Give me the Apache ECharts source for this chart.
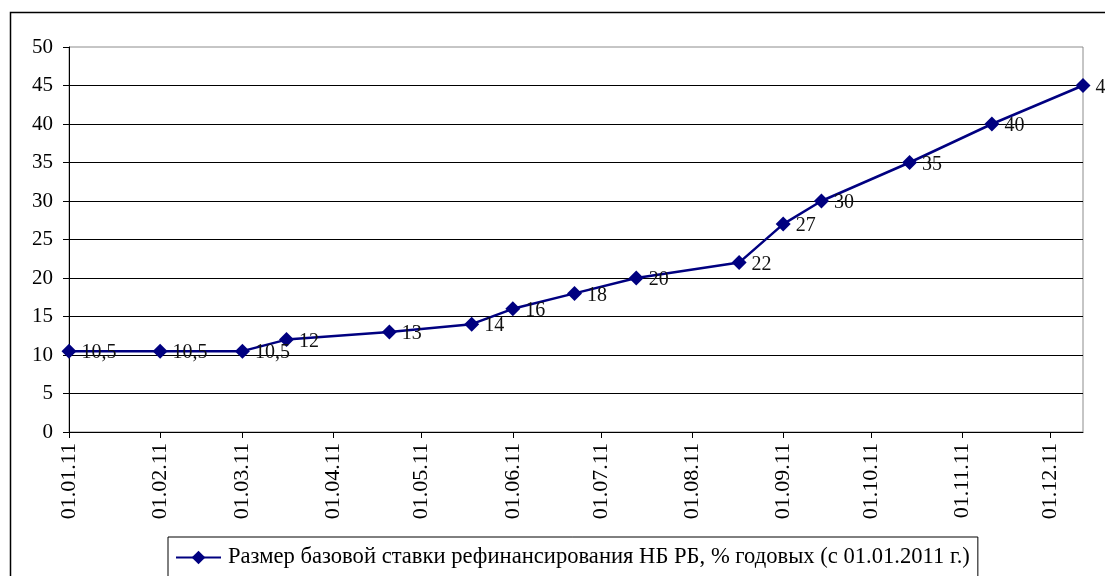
<!DOCTYPE html>
<html>
<head>
<meta charset="utf-8">
<script src="https://cdn.jsdelivr.net/npm/echarts@6/dist/echarts.min.js"></script>
<style>
	html, body { margin: 0; padding: 0; background: #fff; }
	#chart { width: 1105px; height: 576px; }
</style>
</head>
<body>
<div id="chart"></div>
<script>
// даты изменения ставки и её размер, % годовых
const rateDates = ["01.01.11", "01.02.11", "01.03.11", "16.03.11", "20.04.11", "18.05.11", "01.06.11", "22.06.11",
	"13.07.11", "17.08.11", "01.09.11", "14.09.11", "14.10.11", "11.11.11", "12.12.11"];
const rateValues = [10.5, 10.5, 10.5, 12, 13, 14, 16, 18, 20, 22, 27, 30, 35, 40, 45];
// подписи оси X (первое число месяца)
const monthTicks = ["01.01.11", "01.02.11", "01.03.11", "01.04.11", "01.05.11", "01.06.11",
	"01.07.11", "01.08.11", "01.09.11", "01.10.11", "01.11.11", "01.12.11"];
const seriesName = "Размер базовой ставки рефинансирования НБ РБ, % годовых (с 01.01.2011 г.)";

const font = '"Liberation Serif", "Times New Roman", serif';

// "дд.мм.гг" -> timestamp (локальное время)
function ts(s) {
	const [d, m, y] = s.split(".");
	return new Date(2000 + Number(y), Number(m) - 1, Number(d)).getTime();
}
function pad(n) {
	return n < 10 ? "0" + n : "" + n;
}

const chart = echarts.init(document.getElementById("chart"));

const option = {
	animation: false,
	backgroundColor: "#fff",
	graphic: [
		{
			type: "rect",
			shape: { x: 10.5, y: 12.5, width: 1300, height: 800 },
			style: { fill: "none", stroke: "#000", lineWidth: 1.5 },
			silent: true,
		},
	],
	grid: {
		left: 69,
		right: 22,
		top: 47,
		bottom: 144,
		show: true,
		borderColor: "#8c8c8c",
		borderWidth: 1,
	},
	legend: {
		left: 168,
		top: 537,
		padding: [9, 8, 9, 7],
		borderColor: "#000",
		borderWidth: 1,
		itemWidth: 45,
		itemHeight: 17,
		textStyle: { fontFamily: font, fontSize: 22.6, color: "#000", padding: [0, 0, 0, 2] },
		data: [seriesName],
	},
	xAxis: {
		type: "value",
		min: ts(rateDates[0]),
		max: ts(rateDates[rateDates.length - 1]),
		axisLine: { lineStyle: { color: "#000", width: 1 } },
		axisTick: {
			show: true,
			length: 6,
			lineStyle: { color: "#000" },
			customValues: monthTicks.map(ts),
		},
		axisLabel: {
			rotate: 90,
			margin: 11,
			fontFamily: font,
			fontSize: 22,
			color: "#000",
			hideOverlap: false,
			customValues: monthTicks.map(ts),
			formatter: (val) => {
				const d = new Date(val);
				return pad(d.getDate()) + "." + pad(d.getMonth() + 1) + "." + pad(d.getFullYear() % 100);
			},
		},
		splitLine: { show: false },
	},
	yAxis: {
		type: "value",
		min: 0,
		max: 50,
		interval: 5,
		axisLine: { show: true, lineStyle: { color: "#000", width: 1 } },
		axisTick: { show: true, length: 6, lineStyle: { color: "#000" } },
		axisLabel: { margin: 16, fontFamily: font, fontSize: 21, color: "#000" },
		splitLine: { show: true, showMaxLine: false, lineStyle: { color: "#000", width: 1 } },
	},
	series: [
		{
			name: seriesName,
			type: "line",
			data: rateDates.map((d, i) => [ts(d), rateValues[i]]),
			symbol: "diamond",
			symbolSize: 15,
			lineStyle: { color: "#000080", width: 2.5 },
			itemStyle: { color: "#000080" },
			label: {
				show: true,
				position: "right",
				distance: 5,
				offset: [0, 2],
				fontFamily: font,
				fontSize: 20,
				color: "#111",
				formatter: (p) => String(p.value[1]).replace(".", ","),
			},
			clip: false,
		},
	],
};

chart.setOption(option);
</script>
</body>
</html>
